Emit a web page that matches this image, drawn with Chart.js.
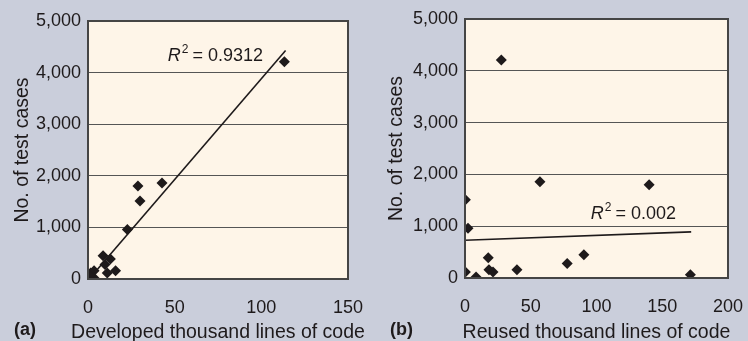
<!DOCTYPE html>
<html lang="en">
  <head>
    <title>Test cases vs lines of code</title>
    <meta charset="UTF-8" />
    <style>
      body {
        margin: 0;
        background: #cacedb;
        width: 748px;
        height: 341px;
        position: relative;
        overflow: hidden;
        font-family: "Liberation Sans", sans-serif;
      }
      .panel {
        position: absolute;
        top: 0;
        width: 374px;
        height: 341px;
      }
      .tag {
        position: absolute;
        top: 319px;
        font-weight: bold;
        font-size: 18px;
        color: #1e1a1b;
      }
    </style>
  </head>
  <body>
    <div class="panel" style="left: 0"><canvas id="chartA"></canvas></div>
    <div class="panel" style="left: 374px"><canvas id="chartB"></canvas></div>
    <div class="tag" style="left: 14px">(a)</div>
    <div class="tag" style="left: 390px">(b)</div>

    <script src="https://cdn.jsdelivr.net/npm/chart.js@4.4.0/dist/chart.umd.min.js"></script>
    <script>
      // same projects in both panels, y = test cases
      var testCases = [4210, 1860, 1800, 1510, 960, 450, 390, 280, 160, 160, 115, 115, 20, 65];
      var developedKloc = [113.3, 42.7, 28.8, 30, 22.7, 8.7, 12.9, 9.8, 15.9, 3.5, 11.1, 1.5, 3.5, 0.8];
      var reusedKloc = [27.6, 57, 140, 0.3, 2.3, 90.4, 17.7, 77.7, 39.5, 18.2, 21.3, 0.3, 8.4, 171.4];

      // fitted trend lines (end points)
      var trendAX = [3.5, 114];
      var trendAY = [110, 4430];
      var trendBX = [0, 172];
      var trendBY = [730, 890];

      var yTicks = [0, 1000, 2000, 3000, 4000, 5000];
      var xTicksA = [0, 50, 100, 150];
      var xTicksB = [0, 50, 100, 150, 200];

      var r2A = "0.9312";
      var r2B = "0.002";

      var fam = "'Liberation Sans', Arial, sans-serif";
      var tickFont = { family: fam, size: 18 };
      var yTitleFont = { family: fam, size: 19.5 };
      var ink = "#1e1a1b";

      function toPoints(xs, ys) {
        return xs.map(function (x, i) {
          return { x: x, y: ys[i] };
        });
      }

      // cream plot area, dark frame, x title (wider than the plot) and the R^2 note
      var plotFrame = {
        id: "plotFrame",
        beforeDraw: function (chart) {
          var a = chart.chartArea;
          chart.ctx.save();
          chart.ctx.fillStyle = "#fef5e8";
          chart.ctx.fillRect(a.left, a.top, a.right - a.left, a.bottom - a.top);
          chart.ctx.restore();
        },
        afterDraw: function (chart, args, opts) {
          var a = chart.chartArea;
          var ctx = chart.ctx;
          ctx.save();
          ctx.strokeStyle = "#454545";
          ctx.lineWidth = 2;
          ctx.strokeRect(a.left, a.top, a.right - a.left, a.bottom - a.top);

          ctx.fillStyle = ink;
          ctx.font = "19.5px " + fam;
          ctx.textAlign = "center";
          ctx.textBaseline = "alphabetic";
          ctx.fillText(opts.xTitle, (a.left + a.right) / 2, 338);

          var px = chart.scales.x.getPixelForValue(opts.at[0]);
          var py = chart.scales.y.getPixelForValue(opts.at[1]);
          ctx.textAlign = "left";
          ctx.textBaseline = "middle";
          ctx.font = "italic 18px " + fam;
          ctx.fillText("R", px, py);
          var w = ctx.measureText("R").width + 1;
          ctx.font = "12px " + fam;
          ctx.fillText("2", px + w, py - 7);
          w += ctx.measureText("2").width + 4;
          ctx.font = "18px " + fam;
          ctx.fillText("= " + opts.text, px + w, py);
          ctx.restore();
        },
      };

      function makeChart(id, xs, trendX, trendY, xTicks, xMax, note, pad, yW, xH) {
        return new Chart(document.getElementById(id), {
          type: "scatter",
          data: {
            datasets: [
              {
                data: toPoints(xs, testCases),
                pointStyle: "rectRot",
                pointRadius: 5.5,
                backgroundColor: ink,
                borderWidth: 0,
              },
              {
                type: "line",
                data: toPoints(trendX, trendY),
                borderColor: ink,
                borderWidth: 1.6,
                pointRadius: 0,
                fill: false,
              },
            ],
          },
          options: {
            responsive: false,
            animation: false,
            layout: { padding: pad },
            plugins: {
              legend: { display: false },
              tooltip: { enabled: false },
              plotFrame: note,
            },
            scales: {
              x: {
                type: "linear",
                min: 0,
                max: xMax,
                afterBuildTicks: function (s) {
                  s.ticks = xTicks.map(function (v) { return { value: v }; });
                },
                afterFit: function (s) {
                  s.height = xH;
                  s.paddingLeft = 0;
                  s.paddingRight = 0;
                },
                grid: { display: false, drawTicks: false },
                border: { display: false },
                ticks: { color: ink, font: tickFont, padding: 18, maxRotation: 0 },
              },
              y: {
                min: 0,
                max: 5000,
                afterBuildTicks: function (s) {
                  s.ticks = yTicks.map(function (v) { return { value: v }; });
                },
                afterFit: function (s) {
                  s.width = yW;
                  s.paddingTop = 0;
                  s.paddingBottom = 0;
                },
                grid: {
                  drawTicks: false,
                  color: function (c) {
                    return c.tick.value > 0 && c.tick.value < 5000 ? "#555555" : "rgba(0,0,0,0)";
                  },
                  lineWidth: 1,
                },
                border: { display: false },
                ticks: {
                  color: ink,
                  font: tickFont,
                  padding: 7,
                  callback: function (v) { return v.toLocaleString("en-US"); },
                },
                title: { display: true, text: "No. of test cases", color: ink, font: yTitleFont, padding: { top: 11, bottom: 0 } },
              },
            },
          },
          plugins: [plotFrame],
        });
      }

      var cA = document.getElementById("chartA");
      cA.width = 374; cA.height = 341;
      var cB = document.getElementById("chartB");
      cB.width = 374; cB.height = 341;

      makeChart("chartA", developedKloc, trendAX, trendAY, xTicksA, 150,
        { at: [46, 4317], text: r2A, xTitle: "Developed thousand lines of code" },
        { left: 0, right: 26, top: 21, bottom: 0 }, 88, 62);
      makeChart("chartB", reusedKloc, trendBX, trendBY, xTicksB, 200,
        { at: [95.7, 1231], text: r2B, xTitle: "Reused thousand lines of code" },
        { left: 0, right: 20, top: 19, bottom: 0 }, 91, 63);
    </script>
  </body>
</html>
